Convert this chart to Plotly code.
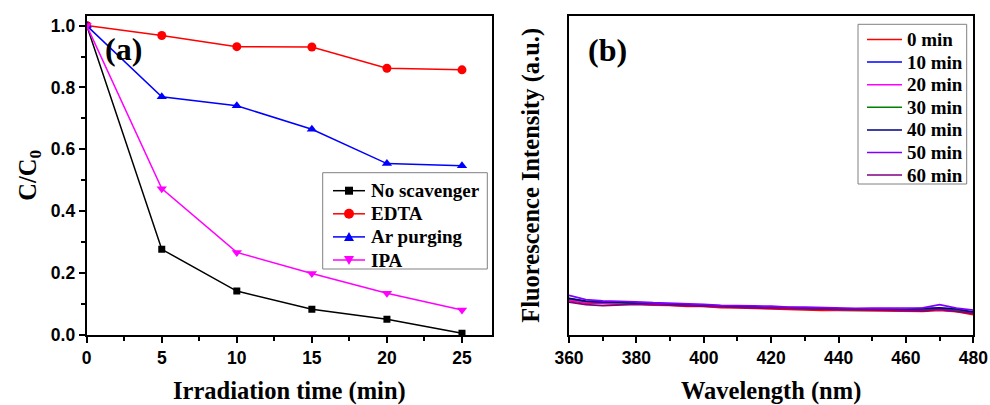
import plotly.graph_objects as go

# ---- (a) scavenger experiments ----
time_min = [0, 5, 10, 15, 20, 25]
no_scavenger = [1.0, 0.277, 0.142, 0.083, 0.051, 0.006]
edta = [1.0, 0.968, 0.932, 0.931, 0.862, 0.857]
ar_purging = [1.0, 0.770, 0.741, 0.665, 0.554, 0.547]
ipa = [1.0, 0.473, 0.267, 0.199, 0.135, 0.081]
names_a = ["No scavenger", "EDTA", "Ar purging", "IPA"]
colors_a = ["#000000", "#FF0000", "#0000FF", "#FF00FF"]
symbols_a = ["square", "circle", "triangle-up", "triangle-down"]

# ---- (b) fluorescence spectra ----
wavelength = list(range(360, 481, 5))
fl_0 = [108, 100, 99, 97, 98, 94, 93, 90, 90, 86, 85, 83, 82, 80, 79, 77, 77, 76, 76, 74, 75, 74, 77, 73, 64]
fl_10 = [112, 104, 101, 102, 99, 97, 96, 93, 91, 91, 88, 87, 86, 84, 82, 82, 80, 79, 78, 78, 77, 77, 79, 76, 69]
fl_20 = [110, 102, 101, 99, 98, 96, 94, 94, 91, 89, 89, 86, 85, 84, 82, 80, 80, 78, 79, 77, 77, 78, 79, 75, 70]
fl_30 = [114, 105, 103, 101, 101, 97, 96, 93, 92, 90, 88, 88, 85, 84, 83, 81, 81, 79, 79, 79, 78, 78, 81, 78, 71]
fl_40 = [115, 106, 103, 103, 100, 98, 97, 94, 93, 90, 90, 88, 87, 85, 84, 83, 82, 81, 81, 80, 80, 83, 85, 82, 72]
fl_50 = [124, 111, 107, 106, 104, 101, 100, 97, 96, 93, 93, 91, 90, 87, 87, 85, 85, 83, 84, 84, 83, 85, 95, 84, 78]
fl_60 = [103, 95, 92, 94, 96, 95, 93, 92, 90, 88, 87, 85, 84, 83, 81, 80, 79, 78, 78, 76, 77, 76, 80, 75, 68]
names_b = ["0 min", "10 min", "20 min", "30 min", "40 min", "50 min", "60 min"]
colors_b = ["#FF0000", "#0000FF", "#FF00FF", "#008000", "#000080", "#8000FF", "#800080"]

SERIF = "Liberation Serif, Times New Roman, serif"
SANS = "Liberation Sans, Arial, sans-serif"
W, H = 990, 405


def px(x):
    return x / W


def py(y):
    return 1 - y / H


fig = go.Figure()

marker_sizes = {"square": 7, "circle": 9, "triangle-up": 9, "triangle-down": 9}
for name, vals, color, sym in zip(names_a, [no_scavenger, edta, ar_purging, ipa], colors_a, symbols_a):
    fig.add_trace(go.Scatter(
        x=time_min, y=vals, name=name, mode="lines+markers",
        line=dict(color=color, width=1.5),
        marker=dict(symbol=sym, size=marker_sizes[sym], color=color),
        xaxis="x", yaxis="y", showlegend=False,
    ))

for name, vals, color in zip(names_b, [fl_0, fl_10, fl_20, fl_30, fl_40, fl_50, fl_60], colors_b):
    fig.add_trace(go.Scatter(
        x=wavelength, y=vals, name=name, mode="lines",
        line=dict(color=color, width=1.8),
        xaxis="x2", yaxis="y2", showlegend=False,
    ))

axis_common = dict(
    showline=True, linecolor="black", linewidth=2, mirror=True,
    showgrid=False, zeroline=False, automargin=False,
    ticks="outside", ticklen=6, tickwidth=1.5, tickcolor="black",
    tickfont=dict(family=SANS, size=17.5, color="black", weight="bold"),
)
title_font = dict(family=SERIF, size=24.5, color="black", weight="bold")
minor_style = dict(ticks="outside", ticklen=4, tickwidth=1.5, tickcolor="black")

# ---- legend boxes (pixel layout) ----
shapes = []
annotations = []


def legend_box(x0, y0, x1, y1):
    shapes.append(dict(type="rect", xref="paper", yref="paper",
                       x0=px(x0), x1=px(x1), y0=py(y1), y1=py(y0),
                       line=dict(color="#808080", width=1), fillcolor="white", layer="above"))


def legend_marker(sym, cx, cy, size, color):
    h = size / 2
    if sym == "square":
        shapes.append(dict(type="rect", xref="paper", yref="paper",
                           x0=px(cx - h), x1=px(cx + h), y0=py(cy + h), y1=py(cy - h),
                           line=dict(width=0), fillcolor=color, layer="above"))
    elif sym == "circle":
        shapes.append(dict(type="circle", xref="paper", yref="paper",
                           x0=px(cx - h), x1=px(cx + h), y0=py(cy + h), y1=py(cy - h),
                           line=dict(width=0), fillcolor=color, layer="above"))
    else:
        s = 1 if sym == "triangle-up" else -1
        path = (f"M {px(cx)} {py(cy - s * h)} L {px(cx - h)} {py(cy + s * h * 0.8)} "
                f"L {px(cx + h)} {py(cy + s * h * 0.8)} Z")
        shapes.append(dict(type="path", xref="paper", yref="paper", path=path,
                           line=dict(width=0), fillcolor=color, layer="above"))


def legend_entry(text, color, lx0, lx1, tx, cy, sym=None):
    shapes.append(dict(type="line", xref="paper", yref="paper",
                       x0=px(lx0), x1=px(lx1), y0=py(cy), y1=py(cy),
                       line=dict(color=color, width=1.5), layer="above"))
    if sym:
        legend_marker(sym, (lx0 + lx1) / 2, cy, marker_sizes[sym] + 1, color)
    annotations.append(dict(text=text, x=px(tx), y=py(cy), xref="paper", yref="paper",
                            xanchor="left", yanchor="middle", showarrow=False,
                            font=dict(family=SERIF, size=19, color="black", weight="bold")))


legend_box(322.7, 172.7, 487.3, 269)
for i, (name, color, sym) in enumerate(zip(names_a, colors_a, symbols_a)):
    legend_entry(name, color, 333, 365, 369, 190.7 + i * 23.1, sym)

legend_box(858, 24.3, 966.7, 184)
for i, (name, color) in enumerate(zip(names_b, colors_b)):
    legend_entry(name, color, 867, 902, 905, 39.5 + i * 22.6)

panel_font = dict(family=SERIF, size=32, color="black", weight="bold")
annotations += [
    dict(text="(a)", x=px(123), y=py(49), xref="paper", yref="paper", showarrow=False,
         xanchor="center", yanchor="middle", font=panel_font),
    dict(text="(b)", x=px(607), y=py(50), xref="paper", yref="paper", showarrow=False,
         xanchor="center", yanchor="middle", font=panel_font),
]

fig.update_layout(
    width=W, height=H,
    margin=dict(l=0, r=0, t=0, b=0),
    paper_bgcolor="white", plot_bgcolor="white",
    showlegend=False,
    xaxis=dict(
        domain=[px(86.7), px(492)], range=[0, 27], tickvals=[0, 5, 10, 15, 20, 25],
        minor=dict(dtick=2.5, **minor_style),
        title=dict(text="Irradiation time (min)", font=title_font, standoff=21),
        anchor="y", **axis_common,
    ),
    yaxis=dict(
        domain=[py(335), py(15.7)], range=[0, 1.032], tickvals=[0, 0.2, 0.4, 0.6, 0.8, 1.0],
        tickformat=".1f",
        minor=dict(dtick=0.1, **minor_style),
        title=dict(text="C/C<sub>0</sub>", font=title_font, standoff=7),
        anchor="x", **axis_common,
    ),
    xaxis2=dict(
        domain=[px(569), px(973.3)], range=[360, 480], tickvals=list(range(360, 481, 20)),
        minor=dict(dtick=10, **minor_style),
        title=dict(text="Wavelength (nm)", font=title_font, standoff=21),
        anchor="y2", **axis_common,
    ),
    yaxis2=dict(
        domain=[py(335), py(15.7)], range=[0, 1000],
        showline=True, linecolor="black", linewidth=2, mirror=True, automargin=False,
        showgrid=False, zeroline=False, showticklabels=False, ticks="",
        title=dict(text="Fluorescence Intensity (a.u.)", font=title_font, standoff=20),
        anchor="x2",
    ),
    shapes=shapes,
    annotations=annotations,
)

fig.write_html("out.html")
